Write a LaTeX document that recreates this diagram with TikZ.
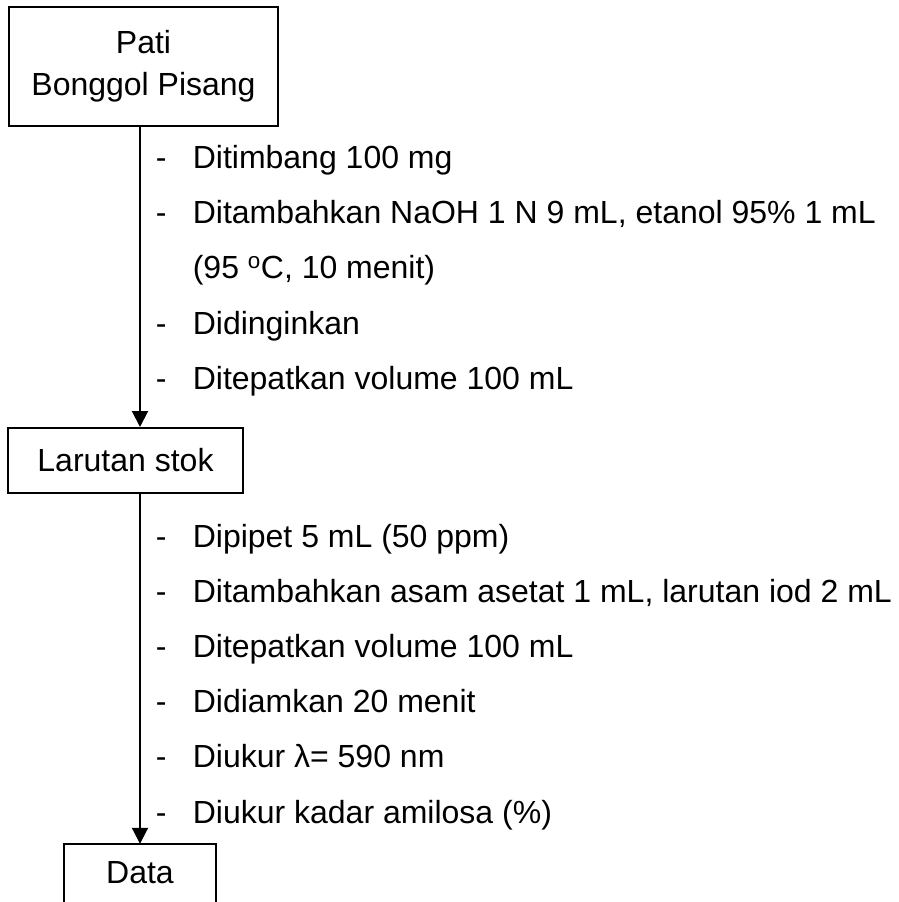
\documentclass[tikz,border=0pt]{standalone}
\usepackage{fontspec}
\setmainfont{Liberation Sans}
\usetikzlibrary{arrows.meta}
\newcommand{\dashitem}[1]{\makebox[37pt][l]{-}#1}
\newcommand{\plainitem}[1]{\makebox[37pt][l]{}#1}
\begin{document}
\begin{tikzpicture}[x=1pt,y=-1pt,
  every node/.style={font=\fontsize{32}{42}\selectfont},
  boxline/.style={line width=2pt,draw=black},
  procbox/.style={boxline,rectangle,inner sep=0pt,align=center},
  listitem/.style={anchor=base west,inner sep=0pt},
  arr/.style={line width=2pt,-{Triangle[width=16pt,length=16pt]}}]
\clip (0,0) rectangle (899,902);
\fill[white] (0,0) rectangle (899,902);
% boxes
\node[procbox,minimum width=269pt,minimum height=119pt] (pati) at (143.5,66.5) {Pati\\Bonggol Pisang};
\node[procbox,minimum width=235pt,minimum height=65pt] (stok) at (125.5,460.5) {Larutan stok};
\node[inner sep=0pt,minimum width=152pt,minimum height=58pt] (data) at (140,873) {Data};
\draw[boxline] ([yshift=-20pt]data.south west) |- (data.north east) -- ([yshift=-20pt]data.south east);
% connectors
\draw[arr] (pati.south -| data.north) -- (stok.north -| data.north);
\draw[arr] (stok.south -| data.north) -- (data.north);
% first list
\node[listitem] (a1) at (155.6,168) {\dashitem{Ditimbang 100 mg}};
\node[listitem] (a2) at (155.6,223) {\dashitem{Ditambahkan NaOH 1 N 9 mL, etanol 95\% 1 mL}};
\node[listitem] (a3) at (155.6,278) {\plainitem{(95 \textsuperscript{o}C, 10 menit)}};
\node[listitem] (a4) at (155.6,334) {\dashitem{Didinginkan}};
\node[listitem] (a5) at (155.6,389) {\dashitem{Ditepatkan volume 100 mL}};
% second list
\node[listitem] (b1) at (155.6,547) {\dashitem{Dipipet 5 mL (50 ppm)}};
\node[listitem] (b2) at (155.6,602) {\dashitem{Ditambahkan asam asetat 1 mL, larutan iod 2 mL}};
\node[listitem] (b3) at (155.6,657) {\dashitem{Ditepatkan volume 100 mL}};
\node[listitem] (b4) at (155.6,712) {\dashitem{Didiamkan 20 menit}};
\node[listitem] (b5) at (155.6,767) {\dashitem{Diukur λ= 590 nm}};
\node[listitem] (b6) at (155.6,823) {\dashitem{Diukur kadar amilosa (\%)}};
\end{tikzpicture}
\end{document}
